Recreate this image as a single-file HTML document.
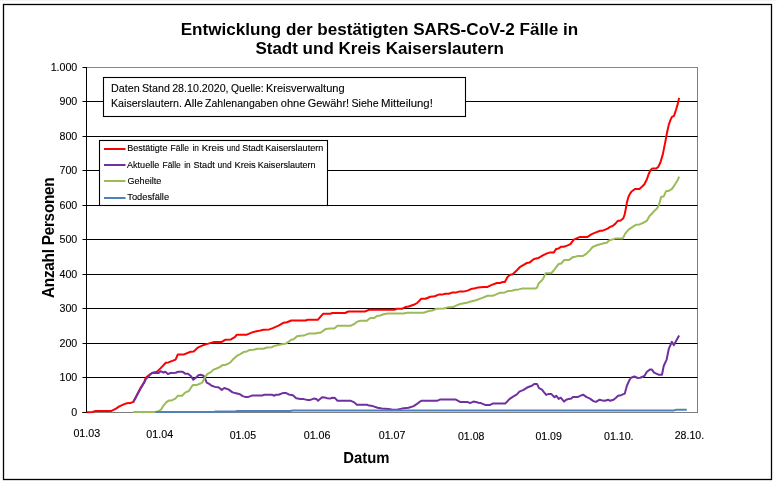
<!DOCTYPE html>
<html><head><meta charset="utf-8"><title>Chart</title>
<style>
html,body{margin:0;padding:0;background:#fff;}
body{width:777px;height:484px;overflow:hidden;font-family:"Liberation Sans",sans-serif;}
svg{display:block;will-change:transform}
text{font-family:"Liberation Sans",sans-serif;fill:#000}
.ttl{font-size:16px;font-weight:bold}
.yl{font-size:10.67px;stroke:#000;stroke-width:0.1px}
.xl{font-size:10.4px;stroke:#000;stroke-width:0.12px}
.lg{font-size:9.8px;stroke:#000;stroke-width:0.12px}
.an{font-size:10.4px;stroke:#000;stroke-width:0.1px}
.ax{font-size:14.67px;font-weight:bold}
</style></head><body>
<svg width="777" height="484" viewBox="0 0 777 484">
<rect x="0" y="0" width="777" height="484" fill="#fff"/>
<rect x="0" y="0" width="777" height="1" fill="#f4f4f4"/>
<rect x="3.5" y="4.5" width="768" height="475" fill="#fff" stroke="#000" stroke-width="1.3"/>
<!-- title -->
<text x="180.7" y="34.8" class="ttl" textLength="397.6" lengthAdjust="spacingAndGlyphs">Entwicklung der bestätigten SARS-CoV-2 Fälle in</text>
<text x="255.4" y="54.4" class="ttl" textLength="248.5" lengthAdjust="spacingAndGlyphs">Stadt und Kreis Kaiserslautern</text>
<!-- plot area border -->
<line x1="86.5" y1="67.5" x2="698.0" y2="67.5" stroke="#868686" stroke-width="1"/>
<line x1="697.5" y1="67.5" x2="697.5" y2="412.5" stroke="#808080" stroke-width="1"/>
<!-- grid -->
<line x1="82.5" y1="412.5" x2="697.5" y2="412.5" stroke="#000" stroke-width="1"/>
<line x1="82.5" y1="377.5" x2="697.5" y2="377.5" stroke="#000" stroke-width="1"/>
<line x1="82.5" y1="343.5" x2="697.5" y2="343.5" stroke="#000" stroke-width="1"/>
<line x1="82.5" y1="308.5" x2="697.5" y2="308.5" stroke="#000" stroke-width="1"/>
<line x1="82.5" y1="274.5" x2="697.5" y2="274.5" stroke="#000" stroke-width="1"/>
<line x1="82.5" y1="239.5" x2="697.5" y2="239.5" stroke="#000" stroke-width="1"/>
<line x1="82.5" y1="205.5" x2="697.5" y2="205.5" stroke="#000" stroke-width="1"/>
<line x1="82.5" y1="170.5" x2="697.5" y2="170.5" stroke="#000" stroke-width="1"/>
<line x1="82.5" y1="136.5" x2="697.5" y2="136.5" stroke="#000" stroke-width="1"/>
<line x1="82.5" y1="101.5" x2="697.5" y2="101.5" stroke="#000" stroke-width="1"/>
<line x1="82.5" y1="67.5" x2="86.5" y2="67.5" stroke="#000" stroke-width="1"/>

<line x1="86.5" y1="412.5" x2="697.5" y2="412.5" stroke="#808080" stroke-width="1"/>
<line x1="82.5" y1="412.5" x2="86.5" y2="412.5" stroke="#000" stroke-width="1"/>
<line x1="86.5" y1="67.0" x2="86.5" y2="413.0" stroke="#000" stroke-width="1"/>
<text x="77.3" y="416.1" text-anchor="end" class="yl">0</text>
<text x="77.3" y="381.1" text-anchor="end" class="yl">100</text>
<text x="77.3" y="347.1" text-anchor="end" class="yl">200</text>
<text x="77.3" y="312.1" text-anchor="end" class="yl">300</text>
<text x="77.3" y="278.1" text-anchor="end" class="yl">400</text>
<text x="77.3" y="243.1" text-anchor="end" class="yl">500</text>
<text x="77.3" y="209.1" text-anchor="end" class="yl">600</text>
<text x="77.3" y="174.1" text-anchor="end" class="yl">700</text>
<text x="77.3" y="140.1" text-anchor="end" class="yl">800</text>
<text x="77.3" y="105.1" text-anchor="end" class="yl">900</text>
<text x="77.3" y="71.1" text-anchor="end" class="yl">1.000</text>

<text x="73.4" y="437.1" class="xl" textLength="26.8" lengthAdjust="spacingAndGlyphs">01.03</text>
<text x="146.3" y="438.1" class="xl" textLength="26.8" lengthAdjust="spacingAndGlyphs">01.04</text>
<text x="229.7" y="439.1" class="xl" textLength="26.4" lengthAdjust="spacingAndGlyphs">01.05</text>
<text x="303.7" y="439.1" class="xl" textLength="26.8" lengthAdjust="spacingAndGlyphs">01.06</text>
<text x="378.7" y="439.1" class="xl" textLength="26.8" lengthAdjust="spacingAndGlyphs">01.07</text>
<text x="458.0" y="440.1" class="xl" textLength="26.4" lengthAdjust="spacingAndGlyphs">01.08</text>
<text x="535.4" y="440.1" class="xl" textLength="26.5" lengthAdjust="spacingAndGlyphs">01.09</text>
<text x="604.0" y="440.1" class="xl" textLength="29.5" lengthAdjust="spacingAndGlyphs">01.10.</text>
<text x="674.7" y="439.1" class="xl" textLength="29.4" lengthAdjust="spacingAndGlyphs">28.10.</text>

<!-- curves -->
<g fill="none" stroke-width="2" stroke-linejoin="round" stroke-linecap="butt">
<polyline stroke="#FF0000" points="86.7,412.3 92.5,412.0 95.1,411.1 111.0,411.1 116.0,408.6 119.3,406.4 124.3,404.1 126.8,403.3 130.2,403.1 133.2,401.9 136.0,396.9 140.2,388.5 144.4,381.8 145.7,377.9 150.8,373.8 152.4,372.7 157.0,371.7 160.7,368.1 165.8,362.7 168.4,362.4 175.6,359.6 177.7,354.6 183.4,354.6 190.6,351.7 193.7,351.5 197.9,347.6 201.5,345.9 205.0,344.5 208.4,343.6 214.2,341.9 221.8,341.9 225.1,339.8 231.0,339.4 235.1,336.9 236.8,334.7 246.8,334.7 253.5,331.9 257.7,331.1 263.6,329.7 269.4,329.4 272.8,328.1 278.6,325.7 283.7,322.7 287.0,322.2 291.2,320.5 305.4,320.5 307.9,319.7 318.0,319.7 323.0,313.8 330.0,313.8 332.5,313.0 345.1,313.0 348.4,311.5 365.1,311.5 369.3,309.7 394.4,309.7 396.9,308.8 401.9,308.8 405.3,307.1 408.6,306.5 413.7,304.8 417.0,303.1 421.2,298.8 425.4,298.8 430.4,296.8 434.6,296.3 438.8,294.6 442.1,294.6 445.4,293.8 448.8,293.8 452.1,292.6 455.5,292.6 460.0,291.4 463.3,291.6 467.5,290.6 470.9,289.1 475.1,288.2 478.4,287.4 483.4,286.9 487.6,286.9 491.8,284.9 496.8,283.0 500.2,283.0 502.7,281.9 504.8,281.9 507.7,276.8 510.2,274.8 512.7,274.3 516.9,270.2 520.2,266.8 523.6,264.8 526.9,263.0 529.4,262.6 533.6,259.3 536.1,258.4 538.6,257.9 542.8,255.4 547.0,253.4 549.5,252.6 553.7,252.6 556.2,248.9 558.7,248.4 561.2,246.7 563.7,246.7 567.1,245.6 570.4,244.2 573.8,239.7 575.0,239.1 580.0,236.9 587.5,236.9 591.7,234.1 595.9,232.4 600.1,230.7 602.6,230.7 607.6,228.6 610.1,226.9 612.6,226.0 615.2,223.9 618.0,220.7 620.2,220.7 623.2,218.5 624.7,214.3 625.7,209.3 626.9,202.6 628.5,196.8 630.2,193.4 631.9,191.2 635.2,188.9 639.4,188.9 641.9,186.7 644.4,184.2 646.9,179.2 648.6,174.2 650.6,170.0 652.3,168.6 656.1,168.6 658.2,167.0 660.3,162.8 662.8,154.4 665.3,141.9 667.0,132.7 668.7,125.1 670.4,120.1 672.0,116.8 674.0,115.9 676.2,109.2 677.9,103.4 679.1,97.9"/>
<polyline stroke="#7030A0" points="133.2,402.3 136.9,395.2 141.1,387.7 144.4,382.3 145.7,379.4 147.2,377.9 150.3,374.3 152.4,373.0 158.6,373.0 160.7,371.2 163.4,372.7 165.3,371.7 167.9,374.1 170.5,373.0 175.6,372.7 178.2,371.7 182.4,371.7 185.5,373.8 188.0,373.8 191.1,376.3 193.2,379.7 196.3,377.4 198.4,375.3 200.5,374.8 203.6,375.8 205.0,378.4 206.7,382.7 209.2,383.9 211.7,385.7 215.1,386.9 218.4,387.2 221.8,389.9 224.3,388.0 228.4,389.4 232.6,392.4 236.0,393.2 239.3,393.9 242.7,396.1 245.2,396.9 248.5,396.9 251.9,395.6 261.9,395.6 264.4,394.7 271.9,394.7 274.5,395.7 276.1,394.7 278.6,394.7 282.8,393.1 286.2,393.1 288.7,394.4 292.9,395.2 296.2,398.2 300.4,398.9 303.7,399.1 307.1,399.9 310.4,399.9 313.8,398.6 316.3,398.9 318.0,400.8 322.1,397.2 324.6,397.4 327.2,398.2 330.0,398.6 332.5,397.7 335.0,398.1 337.5,400.8 350.9,400.8 354.3,402.4 356.8,404.8 366.8,404.8 369.3,405.6 372.7,406.1 377.7,407.8 381.9,408.6 388.6,409.0 392.7,409.8 396.9,409.8 401.9,408.6 408.6,407.8 413.7,406.1 417.0,403.9 421.2,400.8 437.1,400.8 440.4,399.4 455.5,399.4 460.0,401.9 467.5,401.9 470.0,403.1 473.4,401.6 475.9,401.9 478.4,402.8 480.9,403.1 485.1,404.9 490.1,404.9 492.6,403.6 505.2,403.6 509.4,399.1 512.7,396.9 516.9,394.4 519.4,391.6 523.6,389.9 527.8,387.2 531.9,385.7 534.5,383.9 537.0,383.9 539.0,388.2 542.0,389.7 543.7,391.9 546.2,394.9 548.7,393.9 551.2,393.9 554.5,397.2 556.2,395.7 558.7,398.9 560.7,397.7 564.1,401.6 566.2,399.7 568.8,398.9 571.3,398.6 572.9,396.9 578.0,396.9 583.0,394.7 583.0,394.7 586.7,397.2 590.0,398.6 593.4,401.1 595.9,401.9 599.7,399.7 602.6,400.6 605.1,400.8 608.1,399.7 610.1,400.8 613.5,399.7 616.0,397.7 618.1,395.7 621.0,395.2 624.8,393.6 626.8,386.0 629.4,380.2 631.0,377.7 634.4,376.5 637.7,378.0 640.2,377.7 644.4,376.0 646.9,371.8 649.9,369.6 651.9,369.6 654.1,372.6 658.6,374.7 662.0,374.8 663.7,366.0 666.7,359.3 668.7,349.2 671.8,341.9 673.9,345.1 679.1,335.5"/>
<polyline stroke="#9BBB59" points="133.2,412.0 155.3,412.0 158.6,411.1 161.1,409.5 163.7,405.3 166.2,402.4 168.7,400.6 171.2,400.6 175.4,398.6 177.9,395.7 182.1,395.7 185.4,392.4 188.8,391.0 192.9,384.9 197.1,384.9 200.5,383.5 202.5,382.3 204.2,378.5 205.9,376.0 207.5,373.8 210.9,372.1 213.4,369.6 216.7,368.5 220.1,366.8 222.6,365.1 225.1,365.1 230.1,362.6 232.6,359.8 236.8,355.9 240.2,354.2 243.5,352.1 246.8,351.4 249.4,350.1 253.5,349.7 257.7,348.7 263.6,348.7 266.9,347.5 271.9,347.2 274.5,345.9 280.3,344.5 286.2,343.4 288.7,341.7 291.2,339.7 293.7,339.2 297.0,336.3 300.4,335.8 303.7,335.6 308.8,333.6 315.4,333.6 318.0,332.7 320.5,332.7 325.5,329.1 330.0,328.6 334.2,328.6 337.5,325.7 350.9,325.7 354.3,324.0 356.8,321.9 360.1,320.7 366.8,320.7 370.2,318.0 374.3,318.0 376.8,316.0 380.2,315.5 383.5,314.3 387.7,313.5 403.6,313.5 407.0,312.7 423.7,312.7 428.7,311.0 432.1,310.5 436.2,308.8 443.8,308.5 447.1,307.6 453.0,307.1 457.2,305.1 460.0,304.0 460.0,304.1 466.7,302.8 470.9,301.4 475.9,300.3 481.8,298.1 487.6,295.8 492.6,295.8 495.1,294.9 500.2,292.7 504.3,292.7 507.7,291.1 511.9,290.7 515.2,289.7 518.6,289.4 521.9,288.6 535.3,288.6 537.0,287.7 538.6,283.5 542.0,280.2 543.7,277.7 545.7,273.2 551.2,273.2 553.7,270.5 556.2,267.1 558.7,264.0 561.2,263.5 564.1,260.1 568.8,260.1 572.9,257.1 575.4,256.8 578.0,255.9 583.0,255.9 586.3,253.9 590.0,250.1 592.6,247.0 596.8,245.3 599.3,244.5 602.6,243.6 606.8,242.8 609.3,240.3 612.6,239.4 615.2,238.6 622.7,238.6 625.2,233.6 628.5,229.7 631.9,227.4 636.1,224.7 639.4,224.4 643.6,222.7 646.9,220.7 649.5,216.0 652.0,213.5 654.5,210.7 657.0,208.5 658.7,205.6 661.2,196.8 663.7,196.4 666.2,190.9 668.7,190.9 672.0,188.9 676.2,182.5 677.9,179.7 679.1,176.7"/>
<polyline stroke="#4F81BD" points="155.4,411.9 214.0,411.8 216.5,411.5 235.0,411.5 237.5,411.1 290.0,411.0 293.0,410.6 500.0,410.4 674.0,410.4 676.5,409.8 686.8,409.8"/>
</g>
<!-- annotation -->
<rect x="103.5" y="77.5" width="362" height="39" fill="#fff" stroke="#000" stroke-width="1.1"/>
<text x="111.0" y="91.5" class="an" textLength="28.7" lengthAdjust="spacingAndGlyphs">Daten</text>
<text x="142.0" y="91.5" class="an" textLength="27.9" lengthAdjust="spacingAndGlyphs">Stand</text>
<text x="172.2" y="91.5" class="an" textLength="56.4" lengthAdjust="spacingAndGlyphs">28.10.2020,</text>
<text x="230.9" y="91.5" class="an" textLength="32.7" lengthAdjust="spacingAndGlyphs">Quelle:</text>
<text x="265.9" y="91.5" class="an" textLength="78.7" lengthAdjust="spacingAndGlyphs">Kreisverwaltung</text>
<text x="111.0" y="106.6" class="an" textLength="71.0" lengthAdjust="spacingAndGlyphs">Kaiserslautern.</text>
<text x="184.3" y="106.6" class="an" textLength="18.5" lengthAdjust="spacingAndGlyphs">Alle</text>
<text x="205.1" y="106.6" class="an" textLength="73.0" lengthAdjust="spacingAndGlyphs">Zahlenangaben</text>
<text x="280.8" y="106.6" class="an" textLength="24.6" lengthAdjust="spacingAndGlyphs">ohne</text>
<text x="307.7" y="106.6" class="an" textLength="41.5" lengthAdjust="spacingAndGlyphs">Gewähr!</text>
<text x="351.5" y="106.6" class="an" textLength="27.2" lengthAdjust="spacingAndGlyphs">Siehe</text>
<text x="381.0" y="106.6" class="an" textLength="51.8" lengthAdjust="spacingAndGlyphs">Mitteilung!</text>

<!-- legend -->
<rect x="99.5" y="140.5" width="228" height="65" fill="#fff" stroke="#000" stroke-width="1.1"/>
<line x1="104" y1="149.0" x2="125.5" y2="149.0" stroke="#FF0000" stroke-width="2"/>
<text x="127.3" y="151.0" class="lg" textLength="40.1" lengthAdjust="spacingAndGlyphs">Bestätigte</text>
<text x="170.5" y="151.0" class="lg" textLength="18.5" lengthAdjust="spacingAndGlyphs">Fälle</text>
<text x="192.5" y="151.0" class="lg" textLength="6.5" lengthAdjust="spacingAndGlyphs">in</text>
<text x="201.7" y="151.0" class="lg" textLength="22.3" lengthAdjust="spacingAndGlyphs">Kreis</text>
<text x="226.8" y="151.0" class="lg" textLength="13.0" lengthAdjust="spacingAndGlyphs">und</text>
<text x="242.2" y="151.0" class="lg" textLength="21.0" lengthAdjust="spacingAndGlyphs">Stadt</text>
<text x="265.3" y="151.0" class="lg" textLength="58.0" lengthAdjust="spacingAndGlyphs">Kaiserslautern</text>
<line x1="104" y1="165.0" x2="125.5" y2="165.0" stroke="#7030A0" stroke-width="2"/>
<text x="127.0" y="167.7" class="lg" textLength="32.3" lengthAdjust="spacingAndGlyphs">Aktuelle</text>
<text x="162.5" y="167.7" class="lg" textLength="18.3" lengthAdjust="spacingAndGlyphs">Fälle</text>
<text x="184.3" y="167.7" class="lg" textLength="6.4" lengthAdjust="spacingAndGlyphs">in</text>
<text x="193.5" y="167.7" class="lg" textLength="21.3" lengthAdjust="spacingAndGlyphs">Stadt</text>
<text x="217.6" y="167.7" class="lg" textLength="14.1" lengthAdjust="spacingAndGlyphs">und</text>
<text x="234.5" y="167.7" class="lg" textLength="21.3" lengthAdjust="spacingAndGlyphs">Kreis</text>
<text x="257.8" y="167.7" class="lg" textLength="57.8" lengthAdjust="spacingAndGlyphs">Kaiserslautern</text>
<line x1="104" y1="181.0" x2="125.5" y2="181.0" stroke="#9BBB59" stroke-width="2"/>
<text x="127.5" y="183.6" class="lg" textLength="33.8" lengthAdjust="spacingAndGlyphs">Geheilte</text>
<line x1="104" y1="198.0" x2="125.5" y2="198.0" stroke="#4F81BD" stroke-width="2"/>
<text x="127.3" y="199.6" class="lg" textLength="41.8" lengthAdjust="spacingAndGlyphs">Todesfälle</text>

<!-- axis titles -->
<text transform="translate(343.3,463.0) rotate(0.05) scale(1,1.08)" class="ax" textLength="46.2" lengthAdjust="spacingAndGlyphs">Datum</text>
<text transform="translate(53.6,298.0) rotate(-90) scale(1,1.045)" style="font-size:15.3px;font-weight:bold" textLength="120.7" lengthAdjust="spacing">Anzahl Personen</text>
</svg>
</body></html>
